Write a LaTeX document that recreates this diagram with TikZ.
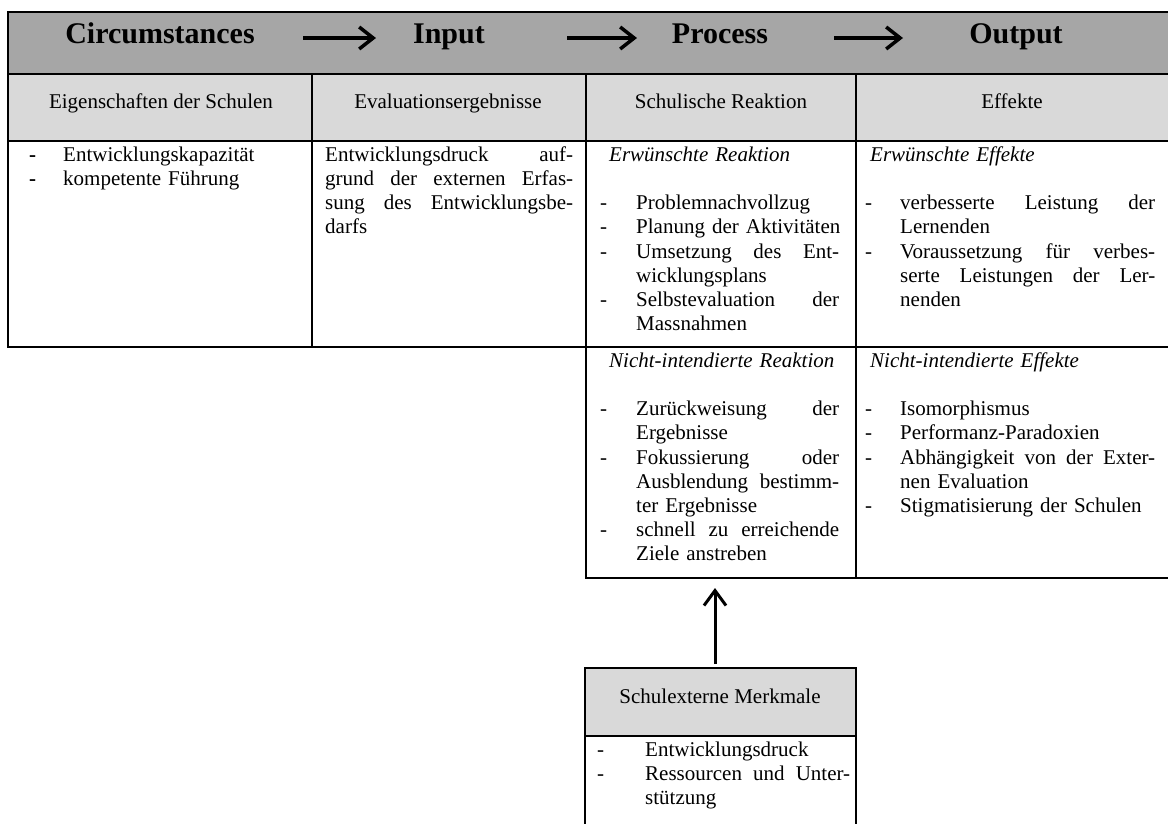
\documentclass[tikz,border=0pt]{standalone}
\usepackage{fontspec}
\setmainfont{Liberation Serif}
\usetikzlibrary{arrows.meta}
\definecolor{hdrgray}{HTML}{A6A6A6}
\definecolor{subgray}{HTML}{D9D9D9}
\newlength\rsW
\newlength\rsind
\def\rsdashsym{-}
\newcommand\rsDash[1]{\leavevmode\makebox[\rsind][l]{\rsdashsym}#1}
\newcommand\rsDashJ[1]{\leavevmode\makebox[\rsind][l]{\rsdashsym}\hbox to \dimexpr\rsW-\rsind\relax{#1}}
\newcommand\rsCont[1]{\leavevmode\hspace*{\rsind}#1}
\newcommand\rsContJ[1]{\leavevmode\hspace*{\rsind}\hbox to \dimexpr\rsW-\rsind\relax{#1}}
\newcommand\rsFull[1]{\leavevmode\hbox to \rsW{#1}}
\tikzset{
  cell/.style={draw=black, line width=2pt, rectangle, inner sep=0pt, outer sep=0pt, anchor=north west},
  hdrtxt/.style={font=\fontsize{30}{34}\selectfont\bfseries, anchor=base, inner sep=0pt},
  subtxt/.style={font=\fontsize{21}{24.15}\selectfont, anchor=base, inner sep=0pt},
  body/.style={font=\fontsize{21}{24.15}\selectfont, anchor=base west, inner sep=0pt, align=left, text width=330pt},
  flowarrow/.style={line width=3.5pt, -{Straight Barb[length=14pt,width=22pt,line width=3.5pt]}},
  uparrow/.style={line width=3pt, -{Straight Barb[length=15pt,width=22pt,line width=3pt]}}
}
\begin{document}
\begin{tikzpicture}[x=1pt,y=-1pt]
\useasboundingbox (0,0) rectangle (1168,823);
\fill[white] (0,0) rectangle (1168,823);
% header
\node[cell, fill=hdrgray, minimum width=1166pt, minimum height=62pt] (hdr) at (8,12) {};
\node[hdrtxt] (hcirc) at (160,43) {Circumstances};
\node[hdrtxt] (hinput) at (449,43) {Input};
\node[hdrtxt] (hproc) at (720,43) {Process};
\node[hdrtxt] (hout) at (1016,43) {Output};
\coordinate (a1s) at (303,38); \coordinate (a1e) at (376,38);
\coordinate (a2s) at (567,38); \coordinate (a2e) at (637,38);
\coordinate (a3s) at (834,38); \coordinate (a3e) at (903,38);
\draw[flowarrow] (a1s) -- (a1e);
\draw[flowarrow] (a2s) -- (a2e);
\draw[flowarrow] (a3s) -- (a3e);
% row 2
\node[cell, fill=subgray, minimum width=304pt, minimum height=67pt] (c21) at (8,74) {};
\node[cell, fill=subgray, minimum width=274pt, minimum height=67pt] (c22) at (312,74) {};
\node[cell, fill=subgray, minimum width=270pt, minimum height=67pt] (c23) at (586,74) {};
\node[cell, fill=subgray, minimum width=318pt, minimum height=67pt] (c24) at (856,74) {};
\node[subtxt] (t21) at (161,108) {Eigenschaften der Schulen};
\node[subtxt] (t22) at (448,108) {Evaluationsergebnisse};
\node[subtxt] (t23) at (721,108) {Schulische Reaktion};
\node[subtxt] (t24) at (1012,108) {Effekte};
% row 3
\node[cell, minimum width=304pt, minimum height=206pt] (c31) at (8,141) {};
\node[cell, minimum width=274pt, minimum height=206pt] (c32) at (312,141) {};
\node[cell, minimum width=270pt, minimum height=206pt] (c33) at (586,141) {};
\node[cell, minimum width=318pt, minimum height=206pt] (c34) at (856,141) {};
% row 4
\node[cell, minimum width=270pt, minimum height=231pt] (c43) at (586,347) {};
\node[cell, minimum width=318pt, minimum height=231pt] (c44) at (856,347) {};
% bottom box
\node[cell, fill=subgray, minimum width=271pt, minimum height=68pt] (b1) at (585,668) {};
\node[cell, minimum width=271pt, minimum height=100pt] (b2) at (585,736) {};
\node[subtxt] (tb1) at (720,703) {Schulexterne Merkmale};
\draw[uparrow] ([xshift=-5.5pt,yshift=4pt]b1.north) -- ([xshift=-6pt,yshift=-10pt]c43.south);
% row 3 texts
\node[body] (t31) at (29,161.5) {\setlength\rsind{34pt}\def\rsdashsym{\textbf{-}}%
\rsDash{Entwicklungskapazität}\\
\rsDash{kompetente Führung}};
\node[body] (t32) at (325,161.5) {\setlength\rsW{248pt}%
\rsFull{Entwicklungsdruck\hfill auf-}\\
\rsFull{grund\hfill der\hfill externen\hfill Erfas-}\\
\rsFull{sung\hfill des\hfill Entwicklungsbe-}\\
darfs};
\node[body] (t33) at (600,161.5) {\setlength\rsW{239pt}\setlength\rsind{36pt}%
\hspace*{9pt}\textit{Erwünschte Reaktion}\\[24.15pt]
\rsDash{Problemnachvollzug}\\
\rsDash{Planung der Aktivitäten}\\
\rsDashJ{Umsetzung\hfill des\hfill Ent-}\\
\rsCont{wicklungsplans}\\
\rsDashJ{Selbstevaluation\hfill der}\\
\rsCont{Massnahmen}};
\node[body] (t34) at (865,161.5) {\setlength\rsW{290pt}\setlength\rsind{35pt}%
\hspace*{5pt}\textit{Erwünschte Effekte}\\[24.15pt]
\rsDashJ{verbesserte\hfill Leistung\hfill der}\\
\rsCont{Lernenden}\\
\rsDashJ{Voraussetzung\hfill für\hfill verbes-}\\
\rsContJ{serte\hfill Leistungen\hfill der\hfill Ler-}\\
\rsCont{nenden}};
% row 4 texts
\node[body] (t43) at (600,367.5) {\setlength\rsW{239pt}\setlength\rsind{36pt}%
\hspace*{9pt}\textit{Nicht-intendierte Reaktion}\\[24.15pt]
\rsDashJ{Zurückweisung\hfill der}\\
\rsCont{Ergebnisse}\\
\rsDashJ{Fokussierung\hfill oder}\\
\rsContJ{Ausblendung\hfill bestimm-}\\
\rsCont{ter Ergebnisse}\\
\rsDashJ{schnell\hfill zu\hfill erreichende}\\
\rsCont{Ziele anstreben}};
\node[body] (t44) at (865,367.5) {\setlength\rsW{290pt}\setlength\rsind{35pt}%
\hspace*{5pt}\textit{Nicht-intendierte Effekte}\\[24.15pt]
\rsDash{Isomorphismus}\\
\rsDash{Performanz-Paradoxien}\\
\rsDashJ{Abhängigkeit\hfill von\hfill der\hfill Exter-}\\
\rsCont{nen Evaluation}\\
\rsDash{Stigmatisierung der Schulen}};
% bottom box texts
\node[body] (tb2) at (597,756) {\setlength\rsW{253pt}\setlength\rsind{48pt}%
\rsDash{Entwicklungsdruck}\\
\rsDashJ{Ressourcen\hfill und\hfill Unter-}\\
\rsCont{stützung}};
\end{tikzpicture}
\end{document}
